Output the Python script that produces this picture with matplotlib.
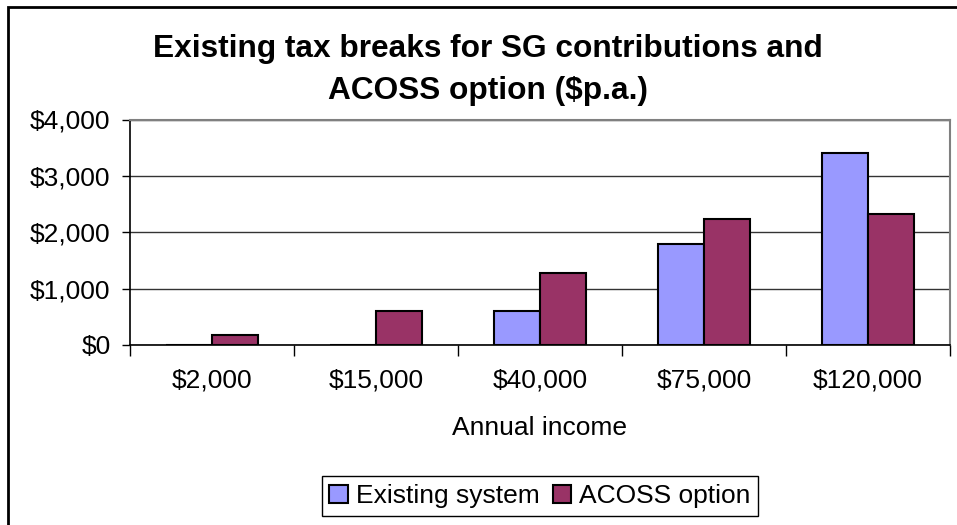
# Existing tax breaks vs ACOSS option, grouped bar chart

import numpy as np
import matplotlib.pyplot as plt
from matplotlib.ticker import FuncFormatter, FixedLocator
from matplotlib.patches import Rectangle

plt.rcParams['font.family'] = ['Liberation Sans', 'DejaVu Sans']
plt.rcParams['text.parse_math'] = False

# Data
incomes = ["$2,000", "$15,000", "$40,000", "$75,000", "$120,000"]
existing = [0, 0, 600, 1800, 3400]
acoss = [170, 600, 1270, 2230, 2330]

fig = plt.figure(figsize=(9.57, 5.25), dpi=100)
ax = fig.add_axes([130/957, 1 - 345/525, 820/957, 225.5/525])

x = np.arange(len(incomes))
w = 0.28
ax.bar(x - w/2, existing, w, color="#9999FF", edgecolor="black", linewidth=1.5,
       label="Existing system", zorder=3)
ax.bar(x + w/2, acoss, w, color="#993366", edgecolor="black", linewidth=1.5,
       label="ACOSS option", zorder=3)

ax.set_xlim(-0.5, len(incomes) - 0.5)
ax.set_ylim(0, 4000)
ax.set_yticks(np.arange(0, 4001, 1000))
ax.yaxis.set_major_formatter(FuncFormatter(lambda v, p: f"${v:,.0f}"))
ax.grid(axis="y", color="#333333", linewidth=1, zorder=0)

# category boundaries get the ticks, labels sit in between
ax.xaxis.set_major_locator(FixedLocator(np.arange(-0.5, len(incomes), 1)))
ax.xaxis.set_minor_locator(FixedLocator(x))
ax.set_xticklabels([], minor=False)
ax.set_xticklabels(incomes, minor=True)
ax.tick_params(axis="x", which="major", length=8, width=1, direction="out")
ax.tick_params(axis="x", which="minor", length=0, pad=17, labelsize=19)
ax.tick_params(axis="y", length=6, width=1, pad=8, labelsize=19)

for s in ["left", "bottom"]:
    ax.spines[s].set_color("black")
    ax.spines[s].set_linewidth(1.2)
for s in ["top", "right"]:
    ax.spines[s].set_color("#808080")
    ax.spines[s].set_linewidth(1.5)

ax.set_xlabel("Annual income", fontsize=19, labelpad=17)

fig.text(488/957, 1 - 57/525, "Existing tax breaks for SG contributions and",
         ha="center", va="baseline", fontsize=22.8, fontweight="bold")
fig.text(488/957, 1 - 99/525, "ACOSS option ($p.a.)",
         ha="center", va="baseline", fontsize=22.8, fontweight="bold")

leg = fig.legend(loc="center", bbox_to_anchor=(540/957, 1 - 496/525), ncol=2,
                 fontsize=19, handlelength=0.7, handleheight=0.7,
                 handletextpad=0.3, columnspacing=0.5, borderpad=0.3,
                 fancybox=False, framealpha=1, edgecolor="black")
leg.get_frame().set_linewidth(1)

# outer chart border
fig.patches.append(Rectangle((8/957, -0.05), 1.2, 1 - 7/525 + 0.05,
                             transform=fig.transFigure, fill=False,
                             edgecolor="black", linewidth=2))

fig.savefig("out.png", dpi=100)
